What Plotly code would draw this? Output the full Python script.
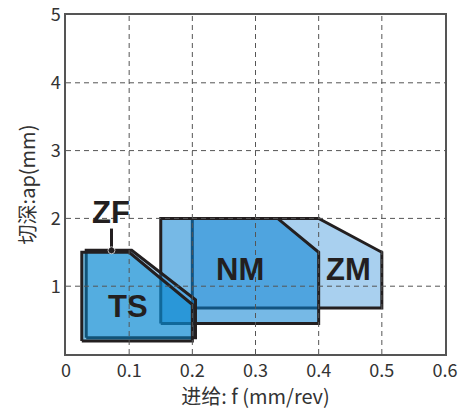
import plotly.graph_objects as go

# ---- axis ticks ----
x_ticks = [0, 0.1, 0.2, 0.3, 0.4, 0.5, 0.6]
x_labels = ["0", "0.1", "0.2", "0.3", "0.4", "0.5", "0.6"]
y_ticks = [1, 2, 3, 4, 5]
y_labels = ["1", "2", "3", "4", "5"]

# ---- regions (feed f, depth ap) ----
zm_f = [0.2, 0.2, 0.4, 0.5, 0.5, 0.2]
zm_ap = [0.68, 2.0, 2.0, 1.5, 0.68, 0.68]
nm_f = [0.15, 0.15, 0.335, 0.4, 0.4, 0.15]
nm_ap = [0.45, 2.0, 2.0, 1.5, 0.45, 0.45]
zf_f = [0.032, 0.032, 0.104, 0.205, 0.205, 0.032]
zf_ap = [0.24, 1.53, 1.53, 0.8, 0.24, 0.24]
ts_f = [0.025, 0.025, 0.1, 0.2, 0.2, 0.025]
ts_ap = [0.19, 1.5, 1.5, 0.73, 0.19, 0.19]

# ---- region labels ----
labels = ["ZM", "NM", "ZF", "TS"]
label_f = [0.447, 0.275, 0.072, 0.098]
label_ap = [1.24, 1.24, 2.08, 0.70]
zf_pointer_f = [0.072, 0.072]
zf_pointer_ap = [1.85, 1.53]

INK = "#231f20"
fig = go.Figure()

def region(xs, ys, fill):
    fig.add_trace(go.Scatter(x=xs, y=ys, mode="lines", fill="toself",
                             fillcolor=fill, line=dict(color=INK, width=3),
                             hoverinfo="skip", showlegend=False))

region(zm_f, zm_ap, "rgb(169,208,239)")
region(nm_f, nm_ap, "rgba(5,128,210,0.55)")
region(zf_f, zf_ap, "rgba(30,140,220,0.38)")
region(ts_f, ts_ap, "rgba(0,135,205,0.5)")

fig.add_trace(go.Scatter(x=zf_pointer_f, y=zf_pointer_ap, mode="lines+markers",
                         line=dict(color=INK, width=3),
                         marker=dict(size=[0, 7], color=INK),
                         hoverinfo="skip", showlegend=False))

grid = dict(color="#555555", width=1, dash="5px,4px")
shapes = []
for xv in x_ticks[1:-1]:
    shapes.append(dict(type="line", xref="x", yref="y", x0=xv, x1=xv, y0=0, y1=5,
                       line=grid, layer="above"))
for yv in y_ticks[:-1]:
    shapes.append(dict(type="line", xref="x", yref="y", x0=0, x1=0.6, y0=yv, y1=yv,
                       line=grid, layer="above"))

annotations = []
for t, xv, yv in zip(labels, label_f, label_ap):
    annotations.append(dict(x=xv, y=yv, xref="x", yref="y", text=t, showarrow=False,
                            font=dict(family="Liberation Sans", size=31, color=INK,
                                      weight="bold")))

fig.update_layout(
    width=469, height=410,
    margin=dict(l=66, r=24, t=15, b=56),
    paper_bgcolor="white", plot_bgcolor="white",
    shapes=shapes, annotations=annotations,
    font=dict(family="Noto Sans CJK SC", color="#333333"),
)
fig.update_xaxes(range=[0, 0.6], tickvals=x_ticks, ticktext=x_labels,
                 showgrid=False, zeroline=False, showline=True, mirror=True,
                 linecolor="#555555", linewidth=1.5, ticks="", automargin=False,
                 ticklabeloverflow="allow",
                 tickfont=dict(size=18),
                 title=dict(text="进给: f (mm/rev)", font=dict(size=20), standoff=4))
fig.update_yaxes(range=[0, 5], tickvals=y_ticks, ticktext=y_labels,
                 showgrid=False, zeroline=False, showline=True, mirror=True,
                 linecolor="#555555", linewidth=1.5, ticks="", automargin=False,
                 ticklabeloverflow="allow",
                 tickfont=dict(size=18),
                 title=dict(text="切深:ap(mm)", font=dict(size=20), standoff=10))

fig.write_html("out.html", config={"displayModeBar": False},
               post_script="document.body.style.margin='0px';")
